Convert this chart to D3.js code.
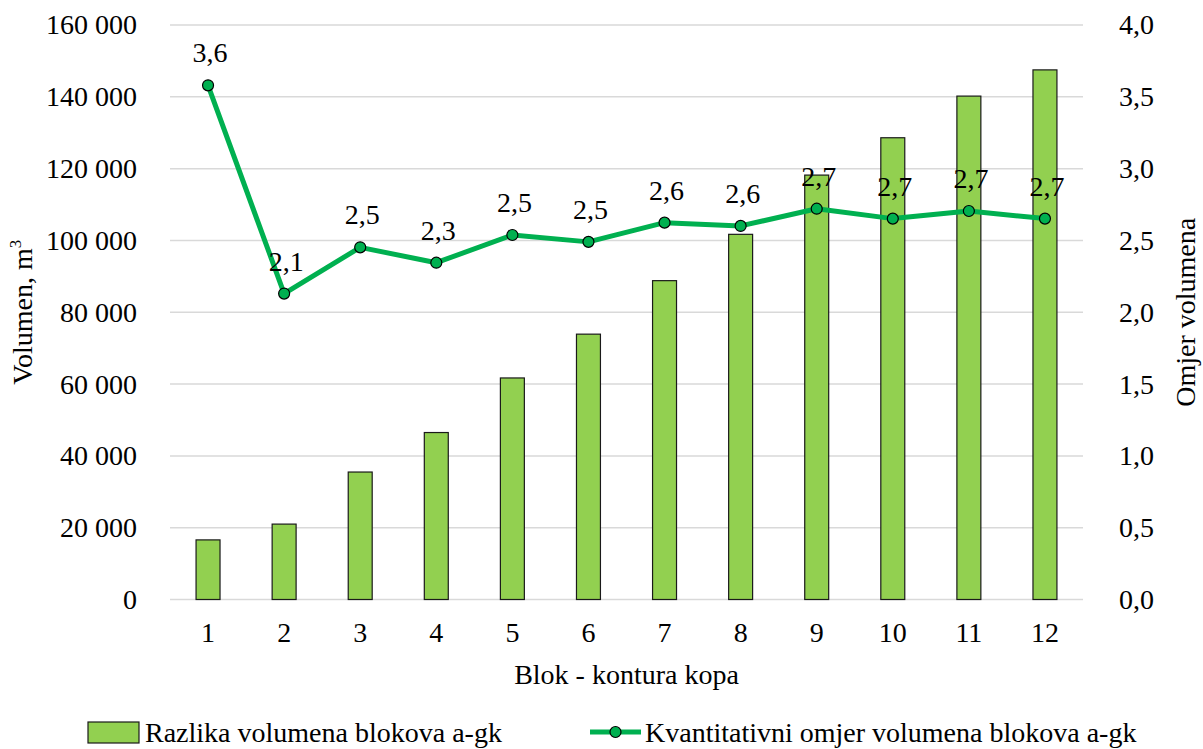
<!DOCTYPE html>
<html>
<head>
<meta charset="utf-8">
<script src="https://cdn.jsdelivr.net/npm/d3@7"></script>
<style>
  html, body { margin: 0; padding: 0; background: #fff; }
  svg { display: block; }
  svg text { font-family: "Liberation Serif", Tinos, "Times New Roman", Times, "DejaVu Serif", serif; }
</style>
</head>
<body>
<svg id="chart" width="1203" height="749"></svg>
<script>
// Blocks along the pit contour
const blocks = ["1", "2", "3", "4", "5", "6", "7", "8", "9", "10", "11", "12"];
// Volume difference of blocks a-gk, m³
const volumeDiff = [16600, 21000, 35500, 46500, 61700, 73900, 88800, 101700, 118200, 128600, 140200, 147500];
// Quantitative volume ratio of blocks a-gk
const volumeRatio = [3.58, 2.13, 2.452, 2.345, 2.538, 2.49, 2.624, 2.601, 2.721, 2.652, 2.705, 2.652];
// Axis ticks
const leftTicks = [0, 20000, 40000, 60000, 80000, 100000, 120000, 140000, 160000];
const rightTicks = [0, 0.5, 1.0, 1.5, 2.0, 2.5, 3.0, 3.5, 4.0];

const barName = "Razlika volumena blokova a-gk";
const lineName = "Kvantitativni omjer volumena blokova a-gk";

const FONT = '"Liberation Serif", Tinos, "Times New Roman", Times, "DejaVu Serif", serif';
const fontSize = 28;

const svg = d3.select("#chart").attr("font-family", FONT);
const margin = { left: 170, right: 1083, top: 25, bottom: 599.5 };

const x = d3.scaleBand().domain(blocks).range([margin.left, margin.right]).paddingInner(0.685).paddingOuter(0.3425);
const xc = d => x(d) + x.bandwidth() / 2;
const yL = d3.scaleLinear().domain([0, 160000]).range([margin.bottom, margin.top]);
const yR = d3.scaleLinear().domain([0, 4]).range([margin.bottom, margin.top]);

const fmtThousands = v => d3.format(",")(v).replace(/,/g, "\u00a0");
const fmtComma1 = v => d3.format(".1f")(v).replace(".", ",");

// Gridlines
svg.append("g")
  .selectAll("line")
  .data(leftTicks)
  .join("line")
  .attr("x1", margin.left).attr("x2", margin.right)
  .attr("y1", d => yL(d)).attr("y2", d => yL(d))
  .attr("stroke", "#d9d9d9").attr("stroke-width", 1.5);

function styleAxis(g) {
  g.select(".domain").remove();
  g.attr("font-family", FONT).attr("font-size", fontSize);
  g.selectAll("text").attr("font-family", FONT).attr("font-size", fontSize).attr("fill", "#000");
}

// Left axis
svg.append("g")
  .attr("transform", `translate(${margin.left - 33},0)`)
  .call(d3.axisLeft(yL).tickValues(leftTicks).tickSize(0).tickPadding(0).tickFormat(fmtThousands))
  .call(styleAxis);

// Right axis
svg.append("g")
  .attr("transform", `translate(${margin.right + 36},0)`)
  .call(d3.axisRight(yR).tickValues(rightTicks).tickSize(0).tickPadding(0).tickFormat(fmtComma1))
  .call(styleAxis);

// Bottom axis
svg.append("g")
  .attr("transform", `translate(0,${margin.bottom + 23})`)
  .call(d3.axisBottom(x).tickSize(0).tickPadding(0))
  .call(styleAxis);

// Bars
svg.append("g")
  .selectAll("rect")
  .data(blocks.map((b, i) => ({ b, v: volumeDiff[i] })))
  .join("rect")
  .attr("x", d => x(d.b))
  .attr("y", d => yL(d.v))
  .attr("width", x.bandwidth())
  .attr("height", d => yL(0) - yL(d.v))
  .attr("fill", "#92d050")
  .attr("stroke", "#1a1a1a")
  .attr("stroke-width", 1.2);

// Ratio line
const pts = blocks.map((b, i) => ({ b, v: volumeRatio[i] }));
svg.append("path")
  .datum(pts)
  .attr("d", d3.line().x(d => xc(d.b)).y(d => yR(d.v)))
  .attr("fill", "none")
  .attr("stroke", "#00b050")
  .attr("stroke-width", 5)
  .attr("stroke-linejoin", "round");

svg.append("g")
  .selectAll("circle")
  .data(pts)
  .join("circle")
  .attr("cx", d => xc(d.b))
  .attr("cy", d => yR(d.v))
  .attr("r", 5.5)
  .attr("fill", "#00b050")
  .attr("stroke", "#000")
  .attr("stroke-width", 1.2);

// Value labels
svg.append("g")
  .selectAll("text")
  .data(pts)
  .join("text")
  .attr("x", d => xc(d.b) + 2)
  .attr("y", d => yR(d.v) - 23)
  .attr("text-anchor", "middle")
  .attr("font-size", fontSize)
  .attr("fill", "#000")
  .text(d => fmtComma1(d.v));

// Axis titles
svg.append("text")
  .attr("x", (margin.left + margin.right) / 2)
  .attr("y", 684)
  .attr("text-anchor", "middle")
  .attr("font-size", fontSize)
  .text("Blok - kontura kopa");

const yTitle = svg.append("text")
  .attr("transform", `translate(32,${(margin.top + margin.bottom) / 2}) rotate(-90)`)
  .attr("text-anchor", "middle")
  .attr("font-size", fontSize);
yTitle.append("tspan").text("Volumen, m");
yTitle.append("tspan").attr("font-size", 17).attr("dy", -11).text("3");

svg.append("text")
  .attr("transform", `translate(1195,${(margin.top + margin.bottom) / 2}) rotate(-90)`)
  .attr("text-anchor", "middle")
  .attr("font-size", fontSize)
  .text("Omjer volumena");

// Legend
const lg = svg.append("g");
lg.append("rect")
  .attr("x", 88).attr("y", 722).attr("width", 51).attr("height", 21)
  .attr("fill", "#92d050").attr("stroke", "#1a1a1a").attr("stroke-width", 1.2);
lg.append("text")
  .attr("x", 145).attr("y", 742)
  .attr("font-size", fontSize)
  .text(barName);
lg.append("line")
  .attr("x1", 590).attr("x2", 641).attr("y1", 732).attr("y2", 732)
  .attr("stroke", "#00b050").attr("stroke-width", 5);
lg.append("circle")
  .attr("cx", 615.5).attr("cy", 732).attr("r", 5.5)
  .attr("fill", "#00b050").attr("stroke", "#000").attr("stroke-width", 1.2);
lg.append("text")
  .attr("x", 645).attr("y", 742)
  .attr("font-size", fontSize)
  .text(lineName);
</script>
</body>
</html>
